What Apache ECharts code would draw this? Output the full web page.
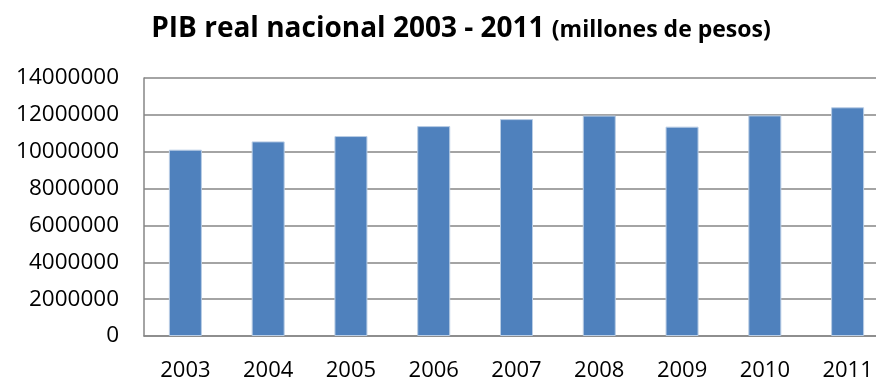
<!DOCTYPE html>
<html>
<head>
<meta charset="utf-8">
<script src="https://cdn.jsdelivr.net/npm/echarts@6/dist/echarts.min.js"></script>
<style>
  html, body { margin: 0; padding: 0; background: #ffffff; }
  #chart { width: 876px; height: 379px; }
</style>
</head>
<body>
<div id="chart"></div>
<script>
// Años del periodo
const years = ['2003', '2004', '2005', '2006', '2007', '2008', '2009', '2010', '2011'];
// PIB real nacional (millones de pesos)
const pib = [10110000, 10560000, 10850000, 11390000, 11770000, 11960000, 11360000, 11970000, 12410000];
// Escala del eje vertical
const yMin = 0;
const yMax = 14000000;
const yStep = 2000000;

const chart = echarts.init(document.getElementById('chart'), null, { renderer: 'canvas' });
const font = '"Open Sans", "Liberation Sans", sans-serif';

chart.setOption({
  animation: false,
  title: {
    text: '{a|PIB real nacional 2003 - 2011 }{b|(millones de pesos)}',
    left: 456,
    textAlign: 'center',
    top: 10,
    textStyle: {
      rich: {
        a: { fontFamily: font, fontWeight: 'bold', fontSize: 28, color: '#000000' },
        b: { fontFamily: font, fontWeight: 'bold', fontSize: 23, color: '#000000', padding: [3, 0, 0, 0] }
      }
    }
  },
  // the plot area runs a little past the right edge of the canvas
  grid: { left: 144, top: 78, width: 745, height: 258, containLabel: false, outerBoundsMode: 'none' },
  xAxis: {
    type: 'category',
    data: years,
    axisLine: { lineStyle: { color: '#868686', width: 1.5 } },
    axisTick: { show: false },
    axisLabel: { color: '#000000', fontFamily: font, fontSize: 22, margin: 24 }
  },
  yAxis: {
    type: 'value',
    min: yMin,
    max: yMax,
    interval: yStep,
    axisLine: { show: true, lineStyle: { color: '#868686', width: 1.5 } },
    axisTick: { show: false },
    splitLine: { lineStyle: { color: '#868686', width: 1.5 } },
    axisLabel: {
      color: '#000000', fontFamily: font, fontSize: 22.5, margin: 25,
      formatter: function (v) { return String(v); }
    }
  },
  series: [{
    type: 'bar',
    data: pib,
    barWidth: 33,
    itemStyle: { color: '#4F81BD', borderColor: '#B9CDE5', borderWidth: 1 }
  }]
});
</script>
</body>
</html>
